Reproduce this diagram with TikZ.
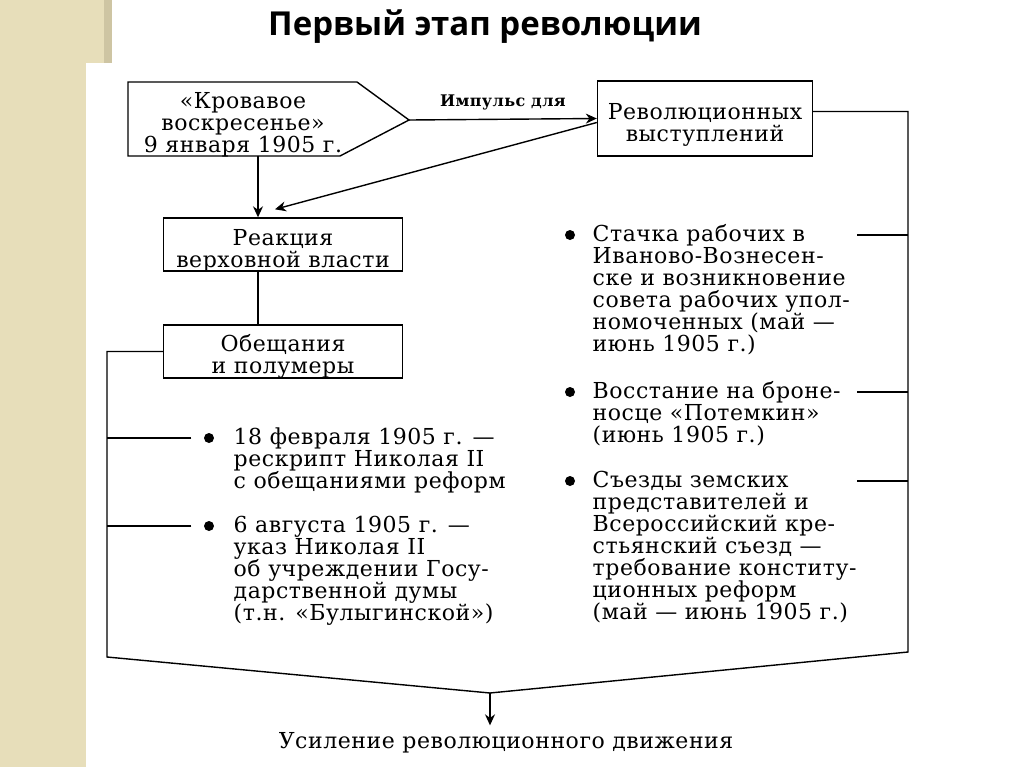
\documentclass[tikz,border=0pt]{standalone}
\usepackage{fontspec}
\setmainfont{DejaVu Serif}[LetterSpace=2.5]
\newfontfamily\titlefont{Open Sans}
\usetikzlibrary{arrows.meta}
\definecolor{beige}{RGB}{231,222,186}
\definecolor{beigeedge}{RGB}{206,197,163}

\tikzset{
  box/.style={draw, minimum width=119.5pt, minimum height=26.5pt, inner sep=1pt},
  boxtext/.style={align=center, inner sep=0pt},
  item/.style={align=left, anchor=north west, inner sep=0pt},
  dot/.style={circle, fill, inner sep=0pt, minimum size=5pt},
}

\begin{document}
\begin{tikzpicture}[x=0.5pt, y=-0.5pt, line width=0.7pt, >={Stealth[length=5.5pt,width=5pt]},
    font=\fontsize{11}{11}\selectfont]
  \useasboundingbox (0,0) rectangle (1024,767);

  % fond
  \fill[white] (0,0) rectangle (1024,767);
  \fill[beige] (0,0) rectangle (112,63);
  \fill[beigeedge] (104,0) rectangle (112,63);
  \fill[beige] (0,63) rectangle (86,767);

  % titre
  \node (title) at (485,27) {\titlefont\bfseries\fontsize{16.5}{19}\selectfont Первый этап революции};

  % "Кровавое воскресенье"
  \draw (128,82) -- (357,82) -- (409,120) coordinate (tip) -- (340,156) -- (128,156) -- cycle;
  \node[boxtext] (Kr) at (243,125) {«Кровавое\\воскресенье»\\9 января 1905 г.};
  \coordinate (Kb) at (258,156);

  % выступления
  \node[box, minimum width=107.5pt, minimum height=37.5pt] (V) at (705,118.5) {};
  \node[boxtext] (Vt) at ([yshift=-3pt]V.center) {Революционных\\выступлений};

  % реакция, обещания
  \node[box] (R) at (283,244.5) {};
  \node[boxtext] (Rt) at ([yshift=-3pt]R.center) {Реакция\\верховной власти};
  \node[box] (O) at (283,351.5) {};
  \node[boxtext] (Ot) at ([yshift=-2.5pt]O.center) {Обещания\\и полумеры};

  % arrows
  \draw[->] (tip) -- (V.west) node[midway, above=1pt] {\bfseries\fontsize{8}{9}\selectfont Импульс для};
  \draw[->] ([yshift=-2pt]V.west) -- ([xshift=-4pt,yshift=4pt]R.north);
  \draw[->] (Kb) -- ([xshift=-12.5pt]R.north);
  \draw ([xshift=-12.5pt]R.south) -- ([xshift=-12.5pt]O.north);

  % полумеры
  \node[dot] (b1) at (209,438) {};
  \node[item] (t1) at (233,427) {18 февраля 1905 г. —\\рескрипт Николая II\\с обещаниями реформ};
  \node[dot] (b2) at (209,526) {};
  \node[item] (t2) at (233,515) {6 августа 1905 г. —\\указ Николая II\\об учреждении Госу-\\дарственной думы\\(т.н. «Булыгинской»)};

  % выступления
  \node[dot] (b3) at (570,235) {};
  \node[item] (t3) at (592,224) {Стачка рабочих в\\Иваново-Вознесен-\\ске и возникновение\\совета рабочих упол-\\номоченных (май —\\июнь 1905 г.)};
  \node[dot] (b4) at (570,392) {};
  \node[item] (t4) at (592,381) {Восстание на броне-\\носце «Потемкин»\\(июнь 1905 г.)};
  \node[dot] (b5) at (570,481) {};
  \node[item] (t5) at (592,470) {Съезды земских\\представителей и\\Всероссийский кре-\\стьянский съезд —\\требование конститу-\\ционных реформ\\(май — июнь 1905 г.)};

  % итог
  \coordinate (J) at (490,693);
  \node (U) at (506,743) {Усиление революционного движения};

  % скобки
  \draw (O.west) -| (107,657) -- (J);
  \draw ([yshift=3.5pt]V.east) -| (908,652) -- (J);
  \draw ([xshift=-6pt]b1.west) -- (107,0 |- b1);
  \draw ([xshift=-6pt]b2.west) -- (107,0 |- b2);
  \draw (857,0 |- b3) -- (908,0 |- b3);
  \draw (857,0 |- b4) -- (908,0 |- b4);
  \draw (857,0 |- b5) -- (908,0 |- b5);
  \draw[->] (J) -- (490,0 |- U.north);
\end{tikzpicture}
\end{document}
